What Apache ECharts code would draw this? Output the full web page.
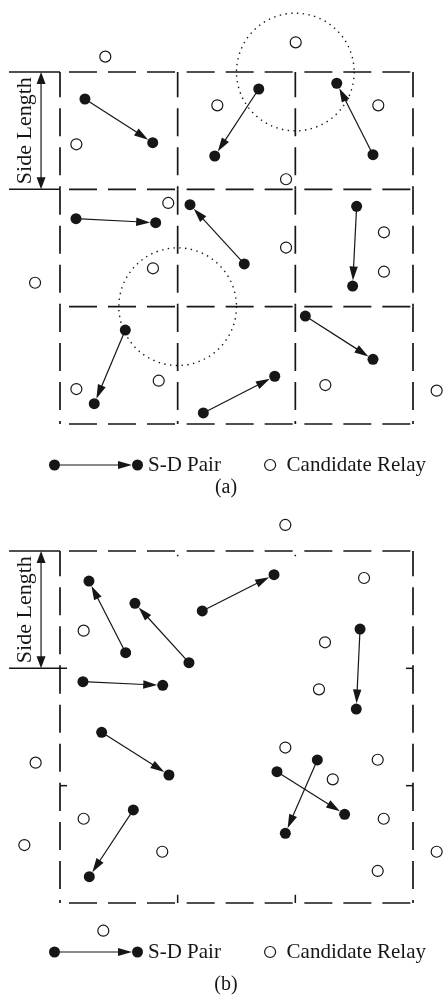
<!DOCTYPE html>
<html><head><meta charset="utf-8">
<script src="https://cdn.jsdelivr.net/npm/echarts@6/dist/echarts.min.js"></script>
<style>html,body{margin:0;padding:0;background:#fff}#c{width:445px;height:996px}</style>
</head><body><div id="c"></div>
<script>
// Data units: one cell side = 1; each panel's box spans 0..3 on both axes (y upward).
const legendNames = ['S-D Pair', 'Candidate Relay'];
const sideLabel = 'Side Length';
const captions = ['(a)', '(b)'];

// (a) S-D pairs: [srcX, srcY, dstX, dstY]
const pairsA = [
  [0.212, 2.770, 0.788, 2.398],
  [1.689, 2.855, 1.315, 2.284],
  [2.660, 2.295, 2.352, 2.904],
  [0.136, 1.750, 0.813, 1.716],
  [1.566, 1.364, 1.105, 1.869],
  [2.521, 1.855, 2.487, 1.176],
  [0.555, 0.801, 0.291, 0.173],
  [1.218, 0.094, 1.825, 0.407],
  [2.085, 0.920, 2.660, 0.551]
];
// (a) candidate relays: [x, y]
const relaysA = [
  [0.385, 3.131], [2.003, 3.253], [1.337, 2.716], [2.705, 2.716], [0.139, 2.384],
  [1.921, 2.086], [0.920, 1.884], [2.753, 1.634], [1.921, 1.504], [0.790, 1.327],
  [2.753, 1.298], [-0.212, 1.204], [0.139, 0.298], [0.839, 0.369], [2.255, 0.332],
  [3.201, 0.284]
];
// (a) dotted transmission ranges: [cx, cy, r]
const rangesA = [[2, 3, 0.5], [1, 1, 0.5]];
// (a) dashed cell edges: [x1, y1, x2, y2]
const edgesA = [
  [0,3,1,3],[1,3,2,3],[2,3,3,3],
  [0,2,1,2],[1,2,2,2],[2,2,3,2],
  [0,1,1,1],[1,1,2,1],[2,1,3,1],
  [0,0,1,0],[1,0,2,0],[2,0,3,0],
  [0,0,0,1],[0,1,0,2],[0,2,0,3],
  [1,0,1,1],[1,1,1,2],[1,2,1,3],
  [2,0,2,1],[2,1,2,2],[2,2,2,3],
  [3,0,3,1],[3,1,3,2],[3,2,3,3]
];
// (a) solid segments (side-length extension lines)
const solidA = [[-0.433,3,0,3],[-0.433,2,0,2]];
// side-length dimension: [x, yLow, yHigh, labelX]
const sideA = [[-0.161, 2, 3, -0.297]];

// (b)
const pairsB = [
  [0.558, 2.133, 0.246, 2.744],
  [1.096, 2.048, 0.637, 2.554],
  [1.209, 2.489, 1.819, 2.798],
  [2.550, 2.335, 2.518, 1.653],
  [0.195, 1.886, 0.873, 1.855],
  [0.354, 1.455, 0.926, 1.091],
  [0.623, 0.793, 0.249, 0.224],
  [1.844, 1.119, 2.419, 0.756],
  [2.187, 1.219, 1.915, 0.594]
];
const relaysB = [
  [1.915, 3.222], [2.584, 2.770], [0.201, 2.321], [2.252, 2.222], [2.201, 1.821],
  [1.915, 1.325], [-0.207, 1.196], [2.700, 1.221], [2.318, 1.054], [0.201, 0.718],
  [2.751, 0.718], [-0.303, 0.494], [0.869, 0.437], [3.201, 0.437], [2.700, 0.273],
  [0.368, -0.236]
];
const rangesB = [];
const edgesB = [
  [0,3,1,3],[1,3,2,3],[2,3,3,3],
  [0,0,1,0],[1,0,2,0],[2,0,3,0],
  [0,0,0,1],[0,1,0,2],[0,2,0,3],
  [3,0,3,1],[3,1,3,2],[3,2,3,3]
];
const solidB = [
  [-0.433,3,0,3],[-0.433,2,0.06,2],[0,1,0.06,1],
  [2.94,2,3,2],[2.94,1,3,1],[1,0,1,0.07],[2,0,2,0.07],
  [1,2.955,1,2.968],[2,2.955,2,2.968]
];
const sideB = [[-0.161, 2, 3, -0.297]];

const INK = '#161616';
const SERIF = 'Liberation Serif';

function renderDashed(params, api) {
  const p1 = api.coord([api.value(0), api.value(1)]);
  const p2 = api.coord([api.value(2), api.value(3)]);
  const horizontal = api.value(1) === api.value(3);
  return {type: 'line', shape: {x1: p1[0], y1: p1[1], x2: p2[0], y2: p2[1]},
    style: {stroke: INK, lineWidth: 1.7, lineDash: [28, 11], lineDashOffset: horizontal ? 30 : 25}};
}
function renderSolid(params, api) {
  const p1 = api.coord([api.value(0), api.value(1)]);
  const p2 = api.coord([api.value(2), api.value(3)]);
  return {type: 'line', shape: {x1: p1[0], y1: p1[1], x2: p2[0], y2: p2[1]},
    style: {stroke: INK, lineWidth: 1.5}};
}
function renderRange(params, api) {
  const c = api.coord([api.value(0), api.value(1)]);
  const r = api.size([api.value(2), 0])[0];
  return {type: 'circle', shape: {cx: c[0], cy: c[1], r: r},
    style: {fill: 'none', stroke: INK, lineWidth: 1.4, lineDash: [1.4, 4.4]}};
}
function renderArrow(params, api) {
  const s = api.coord([api.value(0), api.value(1)]);
  const d = api.coord([api.value(2), api.value(3)]);
  const dx = d[0] - s[0], dy = d[1] - s[1], L = Math.hypot(dx, dy);
  const ux = dx / L, uy = dy / L, nx = -uy, ny = ux;
  const tip = [d[0] - ux * 5.5, d[1] - uy * 5.5];
  const base = [tip[0] - ux * 14, tip[1] - uy * 14];
  return {type: 'group', children: [
    {type: 'line', shape: {x1: s[0], y1: s[1], x2: base[0] + ux, y2: base[1] + uy},
      style: {stroke: INK, lineWidth: 1.2}},
    {type: 'polygon', shape: {points: [tip, [base[0] + nx * 4.2, base[1] + ny * 4.2], [base[0] - nx * 4.2, base[1] - ny * 4.2]]},
      style: {fill: INK}}
  ]};
}
function renderSide(params, api) {
  const x = api.value(0);
  const lo = api.coord([x, api.value(1)]);
  const hi = api.coord([x, api.value(2)]);
  const lab = api.coord([api.value(3), (api.value(1) + api.value(2)) / 2]);
  const h = 12, w = 4.5;
  return {type: 'group', children: [
    {type: 'line', shape: {x1: lo[0], y1: lo[1] - h + 1, x2: hi[0], y2: hi[1] + h - 1},
      style: {stroke: INK, lineWidth: 1.2}},
    {type: 'polygon', shape: {points: [[hi[0], hi[1]], [hi[0] - w, hi[1] + h], [hi[0] + w, hi[1] + h]]}, style: {fill: INK}},
    {type: 'polygon', shape: {points: [[lo[0], lo[1]], [lo[0] - w, lo[1] - h], [lo[0] + w, lo[1] - h]]}, style: {fill: INK}},
    {type: 'text', x: lab[0], y: lab[1], rotation: Math.PI / 2,
      style: {text: sideLabel, fontFamily: SERIF, fontSize: 22, fill: INK, align: 'center', verticalAlign: 'middle'}}
  ]};
}

function panelSeries(i, pairs, relays, ranges, edges, solids, side) {
  const ax = {xAxisIndex: i, yAxisIndex: i};
  const ends = [];
  pairs.forEach(p => { ends.push([p[0], p[1]]); ends.push([p[2], p[3]]); });
  return [
    Object.assign({type: 'custom', name: 'edges' + i, renderItem: renderDashed, data: edges, z: 1, silent: true}, ax),
    Object.assign({type: 'custom', name: 'solid' + i, renderItem: renderSolid, data: solids, z: 1, silent: true}, ax),
    Object.assign({type: 'custom', name: 'range' + i, renderItem: renderRange, data: ranges, z: 2, silent: true}, ax),
    Object.assign({type: 'custom', name: 'side' + i, renderItem: renderSide, data: side, z: 2, silent: true}, ax),
    Object.assign({type: 'custom', name: legendNames[0], renderItem: renderArrow, data: pairs, z: 3, silent: true,
      itemStyle: {color: INK}}, ax),
    Object.assign({type: 'scatter', name: legendNames[0], data: ends, symbol: 'circle', symbolSize: 11, clip: false, z: 4,
      itemStyle: {color: INK, opacity: 1}, silent: true}, ax),
    Object.assign({type: 'scatter', name: legendNames[1], data: relays, symbol: 'circle', symbolSize: 11, clip: false, z: 4,
      itemStyle: {color: '#fff', borderColor: INK, borderWidth: 1.2, opacity: 1}, silent: true}, ax)
  ];
}

const SD_ICON = 'path://M0 5.5A5.5 5.5 0 1 1 11 5.5A5.5 5.5 0 1 1 0 5.5Z' +
  'M11 4.9H69V6.1H11Z' +
  'M69 1.5L83 5.5L69 9.5Z' +
  'M83 5.5A5.5 5.5 0 1 1 94 5.5A5.5 5.5 0 1 1 83 5.5Z';

const legendText = {fontFamily: SERIF, fontSize: 21, color: INK, lineHeight: 21};
function legendPair(top) {
  return [
    {left: 49, top: top, padding: 0, itemWidth: 94, itemHeight: 11, selectedMode: false,
      data: [{name: legendNames[0], icon: SD_ICON, itemStyle: {color: INK, borderWidth: 0}}],
      textStyle: legendText},
    {left: 264, top: top, padding: 0, itemWidth: 11, itemHeight: 11, selectedMode: false,
      data: [{name: legendNames[1], icon: 'circle', itemStyle: {color: '#fff', borderColor: INK, borderWidth: 1.2}}],
      textStyle: Object.assign({}, legendText, {padding: [0, 0, 0, 6]})}
  ];
}

const axisBase = {type: 'value', min: 0, max: 3, show: false};
const chart = echarts.init(document.getElementById('c'), null, {renderer: 'canvas'});
chart.setOption({
  backgroundColor: '#fff',
  animation: false,
  grid: [
    {left: 60, top: 72, width: 353, height: 352},
    {left: 60, top: 551, width: 353, height: 352}
  ],
  xAxis: [Object.assign({gridIndex: 0}, axisBase), Object.assign({gridIndex: 1}, axisBase)],
  yAxis: [Object.assign({gridIndex: 0}, axisBase), Object.assign({gridIndex: 1}, axisBase)],
  title: [
    {text: captions[0], left: 226, top: 478, textAlign: 'center', padding: 0,
      textStyle: {fontFamily: SERIF, fontSize: 20, fontWeight: 'normal', color: INK}},
    {text: captions[1], left: 226, top: 975, textAlign: 'center', padding: 0,
      textStyle: {fontFamily: SERIF, fontSize: 20, fontWeight: 'normal', color: INK}}
  ],
  legend: legendPair(454.5).concat(legendPair(941.5)),
  series: panelSeries(0, pairsA, relaysA, rangesA, edgesA, solidA, sideA)
    .concat(panelSeries(1, pairsB, relaysB, rangesB, edgesB, solidB, sideB))
});
</script></body></html>
